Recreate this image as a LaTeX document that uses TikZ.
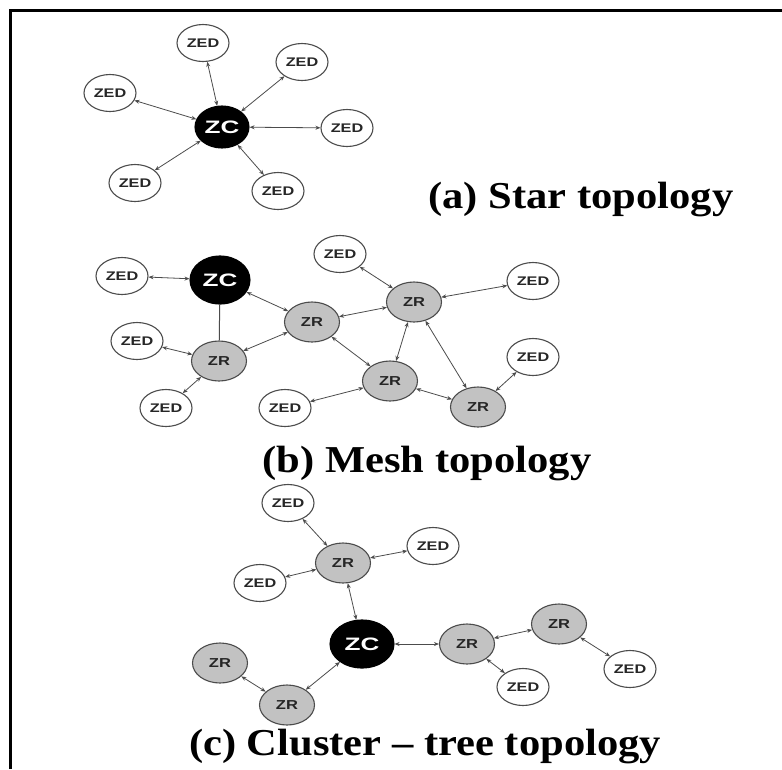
\documentclass[tikz,border=0pt]{standalone}
\usepackage{fontspec}
\setmainfont{Liberation Serif}
\setsansfont{Liberation Sans}
\usetikzlibrary{shapes.geometric,arrows.meta}
\newcommand{\hs}[2]{\scalebox{#1}[1]{#2}}
\tikzset{
  base/.style={ellipse, inner sep=0pt, line width=1.1pt, font=\sffamily\bfseries},
  zed/.style={base, draw=black!70, fill=white, minimum width=52pt, minimum height=37pt,
    text=black!85, execute at begin node={\fontsize{12.5}{13}\selectfont}},
  zr/.style={base, draw=black!70, fill=black!24, minimum width=55pt, minimum height=40pt,
    text=black!85, execute at begin node={\fontsize{13}{14}\selectfont}},
  zc/.style={base, draw=black, fill=black, minimum width=60pt, minimum height=48pt,
    text=white, execute at begin node={\fontsize{18}{19}\selectfont}},
  link/.style={{Stealth[length=5pt,width=4pt]}-{Stealth[length=5pt,width=4pt]}, draw=black!70, line width=0.8pt},
  plain/.style={draw=black!70, line width=1pt},
  caption/.style={anchor=base, font=\bfseries\fontsize{38}{40}\selectfont, inner sep=0pt},
}
\begin{document}
\begin{tikzpicture}[x=1pt,y=-1pt]
\useasboundingbox (0,0) rectangle (782,769);
\fill[white] (0,0) rectangle (782,769);
% frame
\draw[line width=2.5pt] (10.5,769) -- (10.5,10.5) -- (782,10.5);
% ---------------- (a) Star ----------------
\node[zc, minimum width=54pt, minimum height=42pt] (sZC) at (222,127) {\hs{1.45}{ZC}};
\begin{scope}[every node/.append style={minimum width=46pt, minimum height=35pt}]
\node[zed] (s1) at (203,43) {\hs{1.3}{ZED}};
\node[zed] (s2) at (302,62) {\hs{1.3}{ZED}};
\node[zed] (s3) at (110,93) {\hs{1.3}{ZED}};
\node[zed] (s4) at (347,128) {\hs{1.3}{ZED}};
\node[zed] (s5) at (135,183) {\hs{1.3}{ZED}};
\node[zed] (s6) at (278,191) {\hs{1.3}{ZED}};
\end{scope}
\foreach \n in {s1,s2,s3,s4,s5,s6} \draw[link] (sZC) -- (\n);
\node[caption] (capA) at (581,208) {\hs{1.12}{(a) Star topology}};
% ---------------- (b) Mesh ----------------
\node[zc] (mZC) at (220,280) {\hs{1.45}{ZC}};
\node[zed] (m1) at (122,276) {\hs{1.3}{ZED}};
\node[zed] (m2) at (340,254) {\hs{1.3}{ZED}};
\node[zr] (mR1) at (312,322) {\hs{1.27}{ZR}};
\node[zr] (mR2) at (414,302) {\hs{1.27}{ZR}};
\node[zed] (m3) at (533,281) {\hs{1.3}{ZED}};
\node[zed] (m4) at (137,341) {\hs{1.3}{ZED}};
\node[zr] (mR3) at (219,361) {\hs{1.27}{ZR}};
\node[zed] (m5) at (166,408) {\hs{1.3}{ZED}};
\node[zr] (mR4) at (390,381) {\hs{1.27}{ZR}};
\node[zed] (m6) at (285,408) {\hs{1.3}{ZED}};
\node[zr] (mR5) at (478,407) {\hs{1.27}{ZR}};
\node[zed] (m7) at (533,357) {\hs{1.3}{ZED}};
\draw[link] (m1) -- (mZC);
\draw[link] (mZC) -- (mR1);
\draw[plain] (mZC) -- (mR3);
\draw[link] (mR3) -- (m4);
\draw[link] (mR3) -- (m5);
\draw[link] (mR3) -- (mR1);
\draw[link] (mR1) -- (mR2);
\draw[link] (mR1) -- (mR4);
\draw[link] (mR2) -- (m2);
\draw[link] (mR2) -- (m3);
\draw[link] (mR2) -- (mR4);
\draw[link] (mR2) -- (mR5);
\draw[link] (mR4) -- (m6);
\draw[link] (mR4) -- (mR5);
\draw[link] (mR5) -- (m7);
\node[caption] (capB) at (427,472) {\hs{1.12}{(b) Mesh topology}};
% ---------------- (c) Cluster-tree ----------------
\node[zc, minimum width=64pt] (cZC) at (362,644) {\hs{1.45}{ZC}};
\node[zed] (c1) at (288,503) {\hs{1.3}{ZED}};
\node[zr] (cR1) at (343,563) {\hs{1.27}{ZR}};
\node[zed] (c2) at (433,546) {\hs{1.3}{ZED}};
\node[zed] (c3) at (260,583) {\hs{1.3}{ZED}};
\node[zr] (cR2) at (467,644) {\hs{1.27}{ZR}};
\node[zr] (cR3) at (559,624) {\hs{1.27}{ZR}};
\node[zed] (c4) at (630,669) {\hs{1.3}{ZED}};
\node[zed] (c5) at (523,687) {\hs{1.3}{ZED}};
\node[zr] (cR4) at (220,663) {\hs{1.27}{ZR}};
\node[zr] (cR5) at (287,705) {\hs{1.27}{ZR}};
\draw[link] (cR1) -- (c1);
\draw[link] (cR1) -- (c2);
\draw[link] (cR1) -- (c3);
\draw[link] (cR1) -- (cZC);
\draw[link] (cZC) -- (cR2);
\draw[link] (cR2) -- (cR3);
\draw[link] (cR2) -- (c5);
\draw[link] (cR3) -- (c4);
\draw[link] (cZC) -- (cR5);
\draw[link] (cR5) -- (cR4);
\node[caption] (capC) at (425,755) {\hs{1.12}{(c) Cluster -- tree topology}};
\end{tikzpicture}
\end{document}
